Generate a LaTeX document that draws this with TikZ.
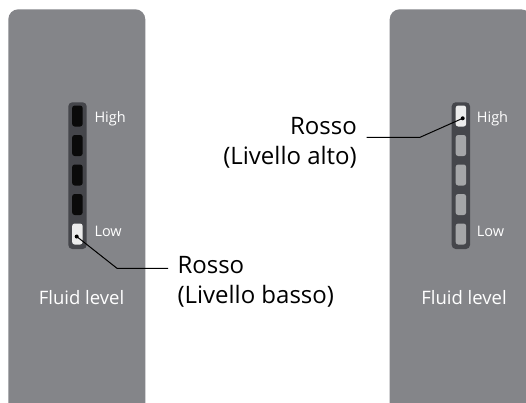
\documentclass[tikz,border=0pt]{standalone}
\usepackage{fontspec}
\setmainfont{Open Sans}
\definecolor{panel}{HTML}{848589}
\definecolor{barbg}{HTML}{45464B}
\definecolor{cellgrey}{HTML}{A5A6A8}
\definecolor{celllit}{HTML}{ECECEC}
\definecolor{celldark}{HTML}{0A0A0A}
\tikzset{
  panelbox/.style={fill=panel, draw=none, rounded corners=10pt},
  barbox/.style={fill=barbg, draw=none, rounded corners=4pt},
  cellbox/.style={draw=none, rounded corners=2.5pt, minimum width=10.5pt, minimum height=21pt, inner sep=0pt},
  small/.style={text=white, font=\fontsize{14.5}{17}\selectfont, anchor=base west, inner sep=0pt},
  fluid/.style={text=white, font=\fontsize{18.5}{21}\selectfont, anchor=base, inner sep=0pt},
  callout/.style={text=black, font=\fontsize{24}{30}\selectfont, inner sep=0pt},
  leader/.style={draw=black, line width=1pt},
  dotmark/.style={circle, fill=black, inner sep=0pt, minimum size=4pt}
}
\begin{document}
\begin{tikzpicture}[x=1pt,y=-1pt]
\useasboundingbox (0,0) rectangle (526,402);
\fill[white] (0,0) rectangle (526,402);
% panels
\fill[panelbox] (8.3,9.3) rectangle (145.3,420);
\fill[panelbox] (389.7,9.3) rectangle (531,420);
% left bar
\fill[barbox] (68.3,102.3) rectangle (86.7,249);
\foreach \i/\y in {1/116,2/145.5,3/175,4/204.5} {
  \node[cellbox, fill=celldark] (L\i) at (77.4,\y) {};
}
\node[cellbox, fill=celllit] (L5) at (77.4,234) {};
% right bar
\fill[barbox] (451.7,102.3) rectangle (470,249);
\node[cellbox, fill=celllit] (R1) at (460.9,116) {};
\foreach \i/\y in {2/145.5,3/175,4/204.5,5/234} {
  \node[cellbox, fill=cellgrey] (R\i) at (460.9,\y) {};
}
% small labels
\node[small] (lh) at (94.3,122.3) {High};
\node[small] (ll) at (94.3,236.7) {Low};
\node[small] (rh) at (476.7,122.3) {High};
\node[small] (rl) at (476.7,236.7) {Low};
\node[fluid] (lf) at (81.5,304) {Fluid level};
\node[fluid] (rf) at (464,304) {Fluid level};
% callouts
\node[dotmark] (ld) at (76.7,236.5) {};
\coordinate (lk) at (117,268.3);
\coordinate (le) at (168,268.3);
\draw[leader] (ld.center) -- (lk) -- (le);
\node[callout, anchor=base west, align=left] (lt) at (177.3,303.5) {Rosso\\(Livello basso)};
\node[dotmark] (rd) at (462.7,118.3) {};
\coordinate (rk) at (420,137.3);
\coordinate (re) at (366.7,137.3);
\draw[leader] (rd.center) -- (rk) -- (re);
\node[callout, anchor=base east, align=right] (rt) at (357,164) {Rosso\\(Livello alto)};
\end{tikzpicture}
\end{document}
